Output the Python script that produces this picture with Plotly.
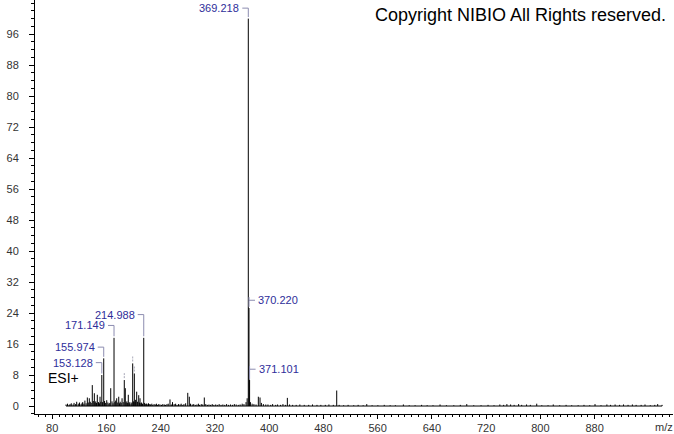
import plotly.graph_objects as go

# ---------------- data (m/z, relative intensity %) ----------------
mz_a = [100.4, 102.6, 104.9, 106.3, 108.1, 110.7, 112.2, 114.5, 116.1, 118.4,
        120.3, 122.6, 124.1, 125.0, 126.7, 128.2, 130.0, 131.8, 133.2, 134.7,
        136.1, 137.5, 139.1, 140.6, 142.1, 143.2, 144.2, 145.4, 146.5, 148.3,
        149.6, 150.5, 151.7]
int_a = [0.4, 0.6, 0.3, 0.5, 0.7, 0.4, 0.8, 0.5, 1.1, 0.6,
         0.9, 0.5, 0.8, 1.0, 0.6, 1.4, 0.7, 2.2, 0.9, 2.0,
         1.1, 0.8, 5.4, 1.3, 3.3, 0.9, 1.2, 0.8, 2.9, 1.0,
         0.7, 2.4, 1.1]

mz_b = [153.128, 154.3, 155.974, 157.2, 158.8, 160.4, 162.1, 163.6, 164.9, 166.3,
        168.2, 169.7, 171.149, 172.4, 173.6, 175.1, 176.6, 178.1, 179.3, 180.2,
        181.6, 183.0, 184.7, 186.3, 187.8, 189.0, 190.1, 191.3, 192.2, 193.6,
        194.5, 196.2, 197.4, 198.7, 200.0, 201.1, 202.2, 203.0, 204.6, 205.9,
        207.6, 208.6, 209.5, 210.7, 211.8, 213.1, 214.988]
int_b = [8.0, 1.0, 12.3, 1.3, 0.8, 1.5, 0.9, 0.6, 0.8, 4.6,
         1.2, 0.7, 17.6, 1.0, 1.4, 2.0, 0.9, 2.4, 0.7, 1.1,
         0.8, 2.0, 1.0, 6.7, 4.6, 0.9, 1.2, 0.8, 2.9, 0.7,
         1.0, 0.6, 0.9, 11.0, 1.2, 8.4, 1.0, 1.6, 3.7, 1.1,
         2.8, 0.9, 2.0, 0.7, 0.9, 0.6, 17.6]

mz_c = [216.3, 217.2, 218.6, 219.5, 221.0, 222.0, 223.8, 225.1, 226.9, 228.3,
        230.2, 232.0, 233.7, 235.4, 237.1, 239.0, 241.2, 243.1, 245.3, 247.0,
        249.2, 251.1, 253.7, 255.6, 257.4, 259.8, 262.0, 264.1, 266.3, 268.5,
        270.2, 272.6, 274.3, 276.8, 279.9, 282.2, 284.0, 286.5, 288.7, 291.0,
        293.4, 295.6, 297.3, 299.8, 302.0, 304.3, 306.5, 308.9, 311.2, 313.6,
        316.0, 318.4, 321.1, 323.5, 326.2, 329.0, 331.7, 334.5, 337.2, 340.1,
        343.0, 345.8, 348.6, 351.3, 354.4, 357.1, 360.2, 362.8, 365.9, 367.5]
int_c = [0.8, 0.5, 0.6, 0.6, 0.4, 0.7, 0.5, 0.4, 0.6, 0.3,
         0.5, 0.4, 0.6, 0.3, 0.5, 0.4, 0.3, 0.5, 0.4, 0.3,
         0.5, 0.6, 1.7, 0.4, 1.0, 0.5, 0.6, 0.3, 0.5, 0.4,
         0.6, 0.3, 0.5, 0.7, 3.4, 2.4, 0.6, 0.4, 0.5, 0.3,
         0.4, 0.6, 0.3, 0.5, 0.4, 2.2, 0.5, 0.3, 0.4, 0.3,
         0.5, 0.3, 0.4, 0.3, 0.5, 0.3, 0.4, 0.3, 0.5, 0.3,
         0.4, 0.3, 0.5, 0.4, 0.3, 0.4, 0.6, 0.5, 1.0, 2.0]

mz_d = [369.218, 370.220, 371.101, 372.3, 374.8, 377.5, 380.6, 384.0, 386.5, 388.5,
        391.4, 395.0, 398.2, 402.3, 405.1, 409.6, 412.4, 416.8, 420.3, 423.9,
        426.8, 430.1, 434.6, 439.8, 445.2, 451.7, 458.3, 463.9, 470.5, 476.2,
        482.8, 488.1, 494.6, 499.6]
int_d = [100.0, 25.3, 6.7, 1.0, 0.6, 0.5, 0.4, 2.4, 2.2, 0.8,
         0.5, 0.4, 0.4, 0.3, 0.5, 0.3, 0.4, 0.3, 0.5, 0.3,
         2.1, 0.4, 0.3, 0.3, 0.4, 0.3, 0.3, 0.4, 0.3, 0.3,
         0.3, 0.4, 0.3, 4.0]

mz_e = [503.2, 509.8, 516.4, 524.7, 531.2, 538.6, 543.9, 551.8, 560.3, 569.7,
        578.4, 586.1, 597.9, 606.5, 615.2, 624.8, 633.0, 641.6, 652.0, 661.4,
        672.3, 681.9, 691.4, 701.7, 712.5, 722.8, 731.6, 740.2, 745.8, 750.6,
        756.1, 761.3, 767.9, 772.4, 779.6, 785.2, 794.6, 802.1, 811.3, 819.0,
        828.5, 837.9, 846.2, 855.7, 864.3, 872.8, 880.6, 889.4, 898.1, 903.5,
        910.2, 916.8, 922.6, 929.3, 935.7, 941.2, 948.6, 954.3, 962.1, 968.7,
        973.0, 979.5]
int_e = [0.3, 0.2, 0.3, 0.2, 0.3, 0.2, 0.5, 0.2, 0.2, 0.3,
         0.2, 0.2, 0.4, 0.2, 0.2, 0.3, 0.2, 0.2, 0.4, 0.2,
         0.2, 0.3, 0.5, 0.2, 0.2, 0.3, 0.2, 0.4, 0.3, 0.5,
         0.4, 0.3, 0.5, 0.3, 0.4, 0.3, 0.6, 0.2, 0.2, 0.4,
         0.2, 0.3, 0.2, 0.2, 0.3, 0.2, 0.5, 0.2, 0.4, 0.3,
         0.4, 0.3, 0.4, 0.3, 0.4, 0.3, 0.3, 0.4, 0.2, 0.3,
         0.5, 0.3]

# labelled peaks
label_mz = [369.218, 370.220, 371.101, 214.988, 171.149, 155.974, 153.128]
# unlabelled peaks that carry a grey marker line
marker_mz = [198.7, 201.1, 186.3]

x_ticks = [80, 160, 240, 320, 400, 480, 560, 640, 720, 800, 880]
y_ticks = [0, 8, 16, 24, 32, 40, 48, 56, 64, 72, 80, 88, 96]

# ---------------- layout / style ----------------
label_side = ["left", "right", "right", "left", "left", "left", "left"]
label_raise = [2.7, 2.0, 2.8, 6.0, 3.2, 2.9, 3.2]

W, H = 674, 434
ML, MR, MT, MB = 35, 1, 0, 20
X_RANGE = [54.6, 995.6]
Y_RANGE = [-2.06, 104.8]
plot_w = W - ML - MR
px_per_mz = plot_w / (X_RANGE[1] - X_RANGE[0])
BRACKET_PX = 6
bracket_dx = BRACKET_PX / px_per_mz

LABEL_COLOR = "#2e2e9a"
BRACKET_COLOR = "#8c8cb0"

mz = mz_a + mz_b + mz_c + mz_d + mz_e
inten = int_a + int_b + int_c + int_d + int_e
assert len(mz) == len(inten)
lookup = dict(zip(mz, inten))

xs, ys = [], []
for m, v in zip(mz, inten):
    xs += [m, m, None]
    ys += [0, v, None]

fig = go.Figure()
# baseline
fig.add_trace(go.Scatter(x=[min(mz), max(mz)], y=[0, 0], mode="lines",
                         line=dict(color="black", width=1), hoverinfo="skip"))
# sticks
fig.add_trace(go.Scatter(x=xs, y=ys, mode="lines",
                         line=dict(color="black", width=1), hoverinfo="skip"))

# brackets + labels
bx, by = [], []
for m, side, up in zip(label_mz, label_side, label_raise):
    v = lookup[m]
    ly = v + up
    if side == "left":
        bx += [m - bracket_dx, m, m, None]
        by += [ly, ly, v + 0.4, None]
        fig.add_annotation(x=m, y=ly, xref="x", yref="y", text=f"{m:.3f}",
                           showarrow=False, xanchor="right", yanchor="middle",
                           xshift=-BRACKET_PX - 1,
                           font=dict(family="Liberation Sans, Arial", size=11,
                                     color=LABEL_COLOR))
    else:
        bx += [m + bracket_dx, m, m, None]
        by += [ly, ly, v + 0.3, None]
        bx += [m, m, None]
        by += [ly, ly + 0.8, None]
        fig.add_annotation(x=m, y=ly, xref="x", yref="y", text=f"{m:.3f}",
                           showarrow=False, xanchor="left", yanchor="middle",
                           xshift=BRACKET_PX + 1,
                           font=dict(family="Liberation Sans, Arial", size=11,
                                     color=LABEL_COLOR))
fig.add_trace(go.Scatter(x=bx, y=by, mode="lines",
                         line=dict(color=BRACKET_COLOR, width=1), hoverinfo="skip"))

mx, my = [], []
for m in marker_mz:
    v = lookup[m]
    mx += [m, m, None]
    my += [v + 0.5, v + 2.0, None]
fig.add_trace(go.Scatter(x=mx, y=my, mode="lines",
                         line=dict(color="#a8a8b8", width=1, dash="2px,1px"),
                         hoverinfo="skip"))

# texts
fig.add_annotation(xref="paper", yref="paper", x=(668 - ML) / plot_w,
                   y=1 - 15 / (H - MT - MB), xanchor="right", yanchor="middle",
                   text="Copyright NIBIO All Rights reserved.", showarrow=False,
                   font=dict(family="Liberation Sans, Arial", size=18, color="black"))
fig.add_annotation(xref="paper", yref="y", x=(46 - ML) / plot_w, y=7.2,
                   xanchor="left", yanchor="middle", text="ESI+", showarrow=False,
                   font=dict(family="Liberation Sans, Arial", size=14, color="black"))
fig.add_annotation(xref="paper", yref="paper", x=(664 - ML) / plot_w, y=0,
                   xanchor="center", yanchor="top", yshift=-5, text="m/z",
                   showarrow=False,
                   font=dict(family="Liberation Sans, Arial", size=11, color="#333333"))

tick_font = dict(family="Liberation Sans, Arial", size=11, color="#333333")
fig.update_layout(
    width=W, height=H,
    margin=dict(l=ML, r=MR, t=MT, b=MB, pad=0),
    paper_bgcolor="white", plot_bgcolor="white",
    showlegend=False,
    xaxis=dict(range=X_RANGE, tickvals=x_ticks, ticktext=[str(t) for t in x_ticks],
               showgrid=False, zeroline=False, showline=True, linecolor="black",
               linewidth=1, ticks="outside", ticklen=4, tickcolor="black",
               tickfont=tick_font,
               minor=dict(dtick=10, tick0=0, ticks="outside", ticklen=2,
                          tickcolor="black", showgrid=False)),
    yaxis=dict(range=Y_RANGE, tickvals=y_ticks, ticktext=[str(t) for t in y_ticks],
               showgrid=False, zeroline=False, showline=True, linecolor="black",
               linewidth=1, ticks="outside", ticklen=5, tickcolor="black",
               tickfont=tick_font, ticklabelstandoff=8,
               minor=dict(dtick=2, tick0=0, ticks="outside", ticklen=3,
                          tickcolor="black", showgrid=False)),
)

fig.write_html("out.html", config={"displayModeBar": False},
               post_script="document.body.style.margin='0';document.body.style.overflow='hidden';")
